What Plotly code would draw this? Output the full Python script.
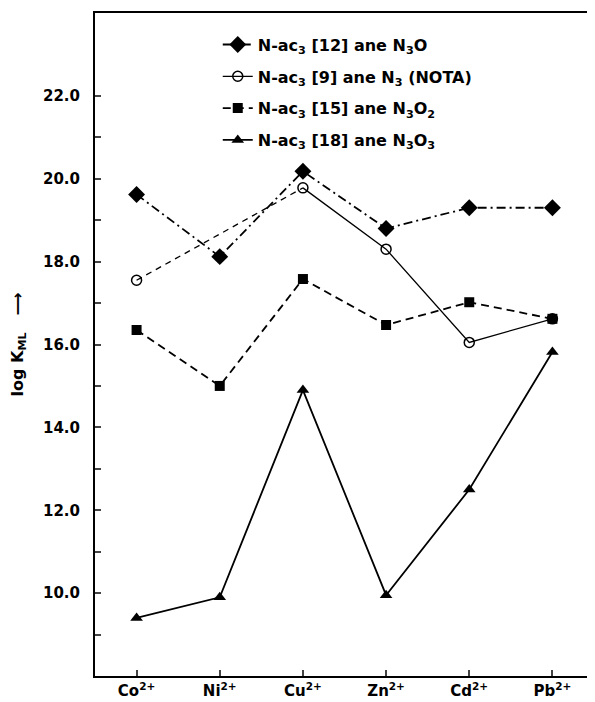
import plotly.graph_objects as go

metals = ["Co<sup>2+</sup>", "Ni<sup>2+</sup>", "Cu<sup>2+</sup>", "Zn<sup>2+</sup>", "Cd<sup>2+</sup>", "Pb<sup>2+</sup>"]
names = [
    "N-ac<sub>3</sub> [12] ane N<sub>3</sub>O",
    "N-ac<sub>3</sub> [9] ane N<sub>3</sub> (NOTA)",
    "N-ac<sub>3</sub> [15] ane N<sub>3</sub>O<sub>2</sub>",
    "N-ac<sub>3</sub> [18] ane N<sub>3</sub>O<sub>3</sub>",
]
n3o = [19.62, 18.12, 20.18, 18.8, 19.3, 19.3]
nota = [17.55, None, 19.78, 18.3, 16.05, 16.62]
n3o2 = [16.35, 15.0, 17.58, 16.47, 17.02, 16.62]
n3o3 = [9.4, 9.9, 14.9, 9.95, 12.5, 15.82]
ytick_vals = [9, 10, 11, 12, 13, 14, 15, 16, 17, 18, 19, 20, 21, 22]

FONT = "DejaVu Sans"
xs = list(range(len(metals)))

fig = go.Figure()

# NOTA gap connector (dashed) across missing value
for i in range(1, len(nota) - 1):
    if nota[i] is None and nota[i - 1] is not None and nota[i + 1] is not None:
        fig.add_trace(go.Scatter(x=[xs[i - 1], xs[i + 1]], y=[nota[i - 1], nota[i + 1]],
                                 mode="lines", line=dict(color="black", width=1.3, dash="6px,5px"),
                                 showlegend=False, hoverinfo="skip"))

fig.add_trace(go.Scatter(x=xs, y=n3o, name=names[0], mode="lines+markers", legendgroup="a",
                         line=dict(color="black", width=1.8, dash="9px,4px,2px,4px"),
                         marker=dict(symbol="diamond", size=13, color="black")))
fig.add_trace(go.Scatter(x=xs, y=nota, name=names[1], mode="lines+markers", legendgroup="b",
                         line=dict(color="black", width=1.3),
                         marker=dict(symbol="circle-open", size=10, color="black", line=dict(width=1.5)),
                         connectgaps=False))
fig.add_trace(go.Scatter(x=xs, y=n3o2, name=names[2], mode="lines+markers", legendgroup="c",
                         line=dict(color="black", width=1.8, dash="8px,5px"),
                         marker=dict(symbol="square", size=10, color="black")))
fig.add_trace(go.Scatter(x=xs, y=n3o3, name=names[3], mode="lines+markers", legendgroup="d",
                         line=dict(color="black", width=1.8),
                         marker=dict(symbol="triangle-up", size=11, color="black")))

# The page body has an 8px default margin, so the figure is sized to fit the window.
fig.update_layout(
    width=587, height=694,
    margin=dict(l=87, r=1, t=5, b=26),
    plot_bgcolor="white", paper_bgcolor="white",
    font=dict(family=FONT, color="black", size=14, weight="bold"),
    showlegend=True,
    legend=dict(x=0.246, y=0.978, xanchor="left", yanchor="top", bgcolor="rgba(0,0,0,0)",
                font=dict(size=16, family=FONT, weight="bold"), tracegroupgap=8,
                itemwidth=30),
    xaxis=dict(range=[-0.5, 5.5], tickvals=xs, ticktext=metals, ticks="inside", ticklen=6,
               tickwidth=1.5, showgrid=False, zeroline=False, showline=True, linecolor="black",
               linewidth=2, mirror=True, automargin=False, tickfont=dict(size=15, weight="bold")),
    yaxis=dict(range=[8, 24], tickvals=ytick_vals,
               ticktext=[("%.1f" % v) if v % 2 == 0 else "" for v in ytick_vals],
               ticks="inside", ticklen=6, tickwidth=1.5, showgrid=False, zeroline=False,
               showline=True, linecolor="black", linewidth=2, mirror=True, automargin=False,
               ticklabelstandoff=10, tickfont=dict(size=15, weight="bold"),
               title=dict(text="log K<sub>ML</sub>   \u27f6", standoff=20,
                          font=dict(size=16, weight="bold"))),
)

fig.write_html("out.html")
